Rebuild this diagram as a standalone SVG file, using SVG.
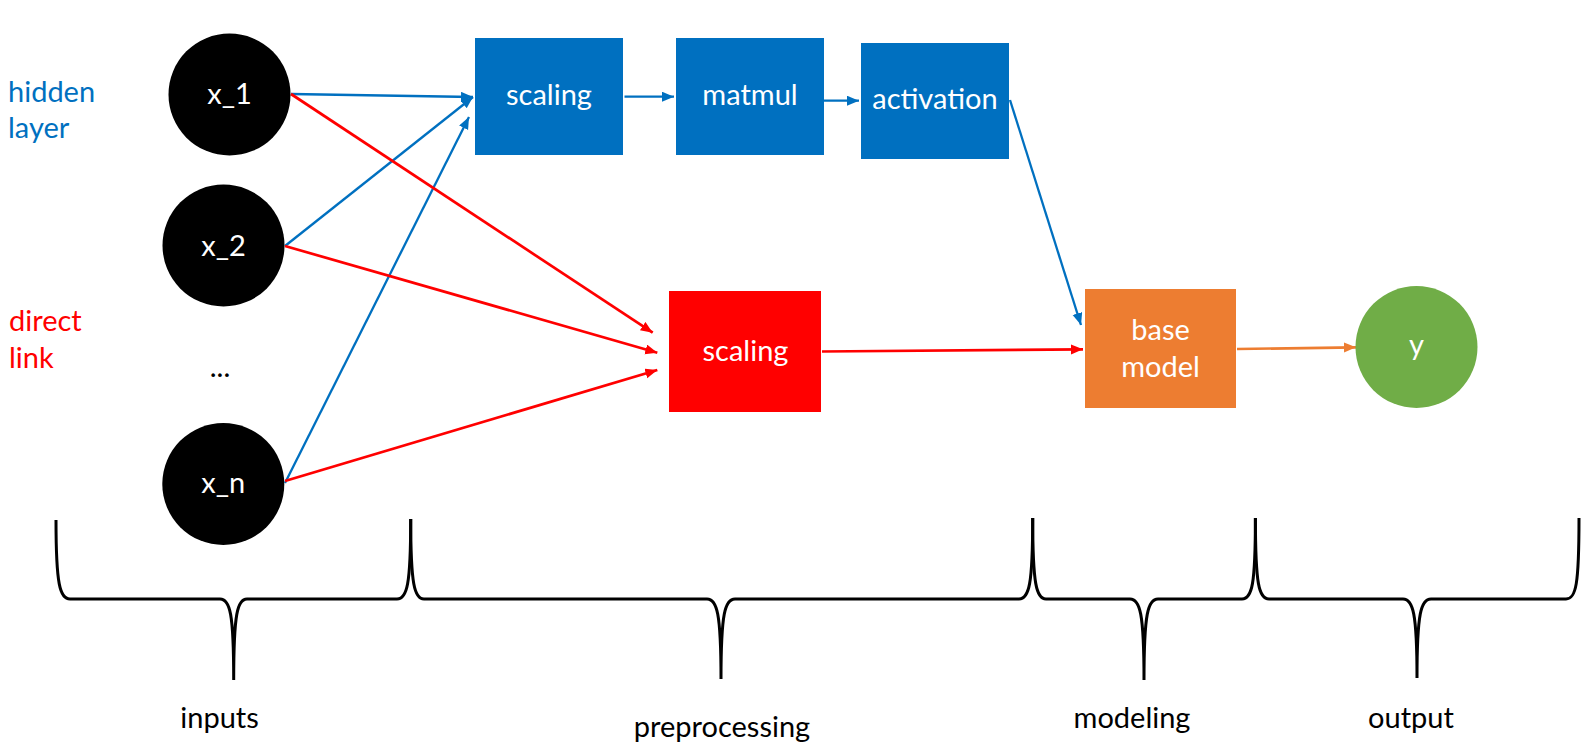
<svg xmlns="http://www.w3.org/2000/svg" width="1592" height="744" viewBox="0 0 1592 744">
<defs>
<style>
text { font-family: Lato, "Open Sans", "Liberation Sans", sans-serif; font-size: 29px; }
.w { fill: #ffffff; text-anchor: middle; }
.k { fill: #000000; text-anchor: middle; }
.lb { fill: #0070C0; }
.lr { fill: #FF0000; }
.cb { stroke: #0070C0; stroke-width: 2.3; fill: none; marker-end: url(#ab); }
.cr { stroke: #FF0000; stroke-width: 2.7; fill: none; marker-end: url(#ar); }
.co { stroke: #ED7D31; stroke-width: 2.7; fill: none; marker-end: url(#ao); }
.br { stroke: #000000; stroke-width: 3; fill: none; }
</style>
<marker id="ab" markerUnits="userSpaceOnUse" markerWidth="14" markerHeight="12" refX="12" refY="5" orient="auto"><path d="M0,0 L12,5 L0,10 z" fill="#0070C0"/></marker>
<marker id="ar" markerUnits="userSpaceOnUse" markerWidth="14" markerHeight="12" refX="12" refY="5" orient="auto"><path d="M0,0 L12,5 L0,10 z" fill="#FF0000"/></marker>
<marker id="ao" markerUnits="userSpaceOnUse" markerWidth="14" markerHeight="12" refX="12" refY="5" orient="auto"><path d="M0,0 L12,5 L0,10 z" fill="#ED7D31"/></marker>
</defs>
<rect width="1592" height="744" fill="#ffffff"/>

<g id="legend">
<text class="lb" x="8" y="102">hidden</text>
<text class="lb" x="8" y="138">layer</text>
<text class="lr" x="9" y="331">direct</text>
<text class="lr" x="9" y="368">link</text>
</g>

<g id="connectors">
<path class="cb" d="M291,94 L473,97"/>
<path class="cb" d="M285,246 L473,97"/>
<path class="cb" d="M285,483 L469,117"/>
<path class="cb" d="M624.5,96.7 L674,96.7"/>
<path class="cb" d="M824,100.7 L859,100.7"/>
<path class="cb" d="M1010,100 L1081,325"/>
<path class="cr" d="M291,94 L652.7,332.7"/>
<path class="cr" d="M285,246 L657.3,352.7"/>
<path class="cr" d="M285,481 L657.3,370"/>
<path class="cr" d="M822,351.5 L1083,349.3"/>
<path class="co" d="M1237,349 L1356,347.3"/>
</g>

<g id="x_1"><circle cx="229.5" cy="94.5" r="61" fill="#000000"/><text class="w" x="229.5" y="104">x_1</text></g>
<g id="x_2"><circle cx="223.5" cy="245.5" r="61" fill="#000000"/><text class="w" x="223.5" y="256">x_2</text></g>
<g id="dots"><text class="k" x="220" y="377">...</text></g>
<g id="x_n"><circle cx="223.3" cy="484" r="61" fill="#000000"/><text class="w" x="223.3" y="493">x_n</text></g>

<g id="scaling_hidden"><rect x="475" y="38" width="148" height="117" fill="#0070C0"/><text class="w" x="549" y="105">scaling</text></g>
<g id="matmul"><rect x="676" y="38" width="148" height="117" fill="#0070C0"/><text class="w" x="750" y="105">matmul</text></g>
<g id="activation"><rect x="861" y="43" width="148" height="116" fill="#0070C0"/><text class="w" x="935" y="109">activation</text></g>
<g id="scaling_direct"><rect x="669" y="291" width="152" height="121" fill="#FF0000"/><text class="w" x="745.5" y="360.5">scaling</text></g>
<g id="base_model"><rect x="1085" y="289" width="151" height="119" fill="#ED7D31"/><text class="w" x="1160.5" y="340">base</text><text class="w" x="1160.5" y="377">model</text></g>
<g id="y"><circle cx="1416.5" cy="347" r="61" fill="#70AD47"/><text class="w" x="1416.5" y="355">y</text></g>

<g id="braces">
<path class="br" d="M56,520 C56,585 60,599 70,599 L220,599 C230,599 233.7,613 233.7,680 C233.7,613 237.5,599 247,599 L397,599 C407,599 410.7,585 410.7,519"/>
<path class="br" d="M410.7,519 C410.7,585 414.5,599 424,599 L707,599 C717,599 721,613 721,679 C721,613 725,599 735,599 L1019,599 C1029,599 1032.7,585 1032.7,518"/>
<path class="br" d="M1032.7,518 C1032.7,585 1036.5,599 1046,599 L1130,599 C1140,599 1144,613 1144,680 C1144,613 1148,599 1158,599 L1242,599 C1252,599 1255.4,585 1255.4,518"/>
<path class="br" d="M1255.4,518 C1255.4,585 1259,599 1269,599 L1403,599 C1413,599 1417,613 1417,678 C1417,613 1421,599 1431,599 L1566,599 C1576,599 1579,585 1579,518"/>
</g>

<g id="labels">
<text class="k" x="219.5" y="728">inputs</text>
<text class="k" x="722" y="737">preprocessing</text>
<text class="k" x="1132" y="728">modeling</text>
<text class="k" x="1411" y="728">output</text>
</g>
</svg>
